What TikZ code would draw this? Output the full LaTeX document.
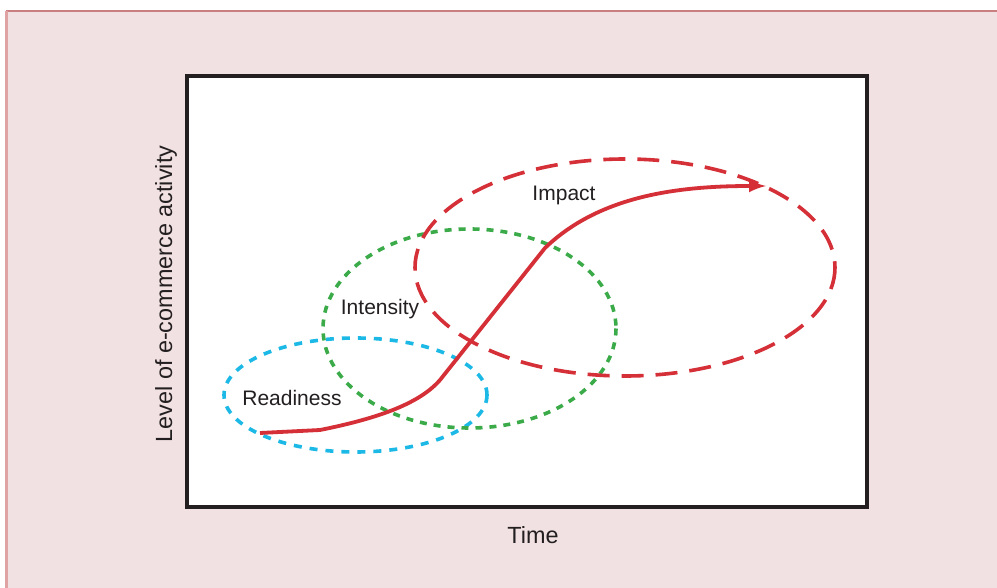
\documentclass[tikz,border=0pt]{standalone}
\usepackage{fontspec}
\setmainfont{Liberation Sans}
\usepackage{tikz}
\usetikzlibrary{positioning}
\usetikzlibrary{calc}
\usetikzlibrary{backgrounds}
\definecolor{panelpink}{HTML}{F2E1E2}
\definecolor{paneledge}{HTML}{C97E80}
\definecolor{paneledgeL}{HTML}{DFA3A4}
\definecolor{framegray}{HTML}{231F20}
\definecolor{impactred}{HTML}{D52F37}
\definecolor{intensgreen}{HTML}{3BAA49}
\definecolor{readyblue}{HTML}{1CB9E6}
\tikzset{
  readiness/.style={draw=readyblue,line width=1.8pt,dash pattern=on 4pt off 4pt},
  intensity/.style={draw=intensgreen,line width=1.8pt,dash pattern=on 3.5pt off 3.5pt},
  impact/.style={draw=impactred,line width=1.8pt,dash pattern=on 11pt off 6pt},
  lbl/.style={text=framegray,font=\fontsize{10.5}{12}\selectfont,inner sep=0pt},
  axislbl/.style={text=framegray,font=\fontsize{11.7}{13}\selectfont,inner sep=0pt}
}
\begin{document}
\begin{tikzpicture}[x=0.5pt,y=-0.5pt]
\useasboundingbox (0,0) rectangle (997,588);
% panel
\fill[panelpink] (6,11) rectangle (997,588);
\draw[paneledge,line width=1pt] (6,11.5) -- (997,11.5);
\draw[paneledgeL,line width=1.2pt] (6.5,11) -- (6.5,588);
% plot frame
\draw[framegray,fill=white,line width=1.6pt] (187,76) rectangle (867,507);
% stages
\draw[readiness] (355.5,395) ellipse [x radius=131.5, y radius=57];
\draw[intensity] (469.5,328.5) ellipse [x radius=146.5, y radius=99.5];
\draw[impact] (625,267.5) ellipse [x radius=210, y radius=108.5];
% growth curve
\draw[impactred,line width=1.9pt,-latex] (260,433) -- (320,430)
  .. controls (380,418) and (420,403) .. (440,380) -- (545,248)
  .. controls (600,195) and (680,186) .. (766,186);
\node[lbl] (ready) at (292,398) {Readiness};
\node[lbl] (intens) at (380,309) {Intensity};
\node[lbl] (impct) at (564,195) {Impact};
\node[axislbl] (time) at (533,535) {Time};
\node[axislbl,rotate=90] (level) at (166,294) {Level of e-commerce activity};
\end{tikzpicture}
\end{document}
